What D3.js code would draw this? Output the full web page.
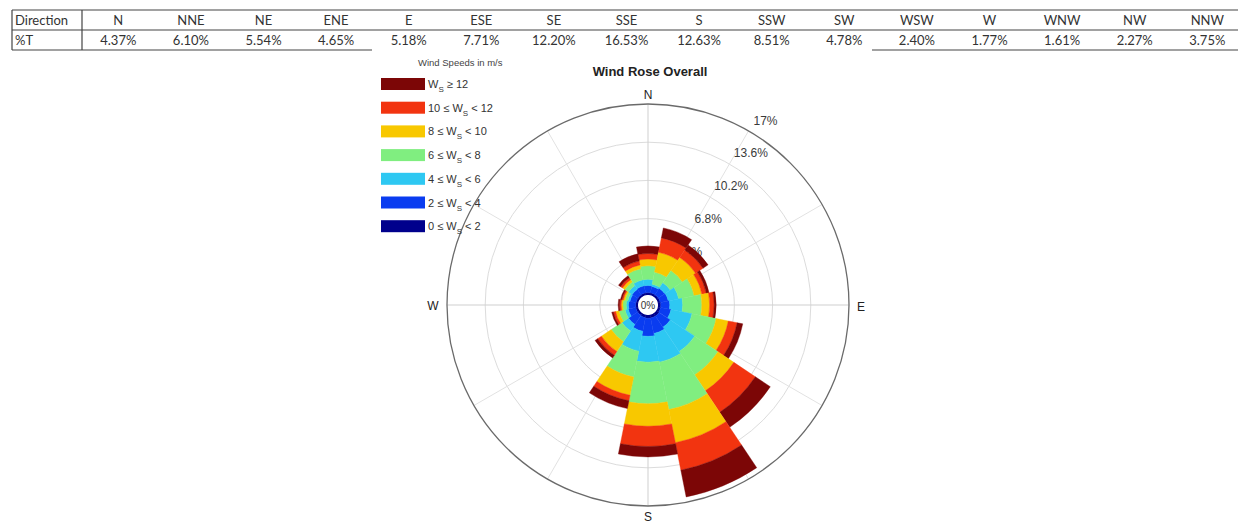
<!DOCTYPE html>
<html>
<head>
<meta charset="utf-8">
<script src="https://cdn.jsdelivr.net/npm/d3@7"></script>
<style>
  body { margin: 0; background: #fff; }
  svg { display: block; }
</style>
</head>
<body>
<svg id="chart" width="1238" height="525"></svg>
<script>
// table row
const directions = ["N", "NNE", "NE", "ENE", "E", "ESE", "SE", "SSE", "S", "SSW", "SW", "WSW", "W", "WNW", "NW", "NNW"];
const tableValues = ["4.37%", "6.10%", "5.54%", "4.65%", "5.18%", "7.71%", "12.20%", "16.53%", "12.63%", "8.51%", "4.78%", "2.40%", "1.77%", "1.61%", "2.27%", "3.75%"];

// frequency (%) of each speed class per direction
const speed0to2   = [0.22, 0.22, 0.22, 0.22, 0.25, 0.25, 0.30, 0.30, 0.30, 0.25, 0.22, 0.22, 0.22, 0.20, 0.20, 0.22];
const speed2to4   = [0.63, 0.58, 0.68, 0.73, 0.80, 0.95, 1.20, 1.40, 1.60, 1.25, 0.98, 0.68, 0.63, 0.55, 0.60, 0.63];
const speed4to6   = [0.55, 0.20, 0.60, 0.95, 1.15, 1.90, 2.60, 2.60, 2.30, 1.80, 0.70, 0.30, 0.20, 0.20, 0.40, 0.55];
const speed6to8   = [1.20, 1.10, 1.30, 1.40, 1.70, 2.20, 2.50, 4.30, 3.70, 2.35, 1.15, 0.55, 0.30, 0.25, 0.40, 1.00];
const speed8to10  = [0.60, 1.80, 1.40, 0.70, 0.70, 1.10, 1.70, 3.00, 2.00, 1.65, 1.05, 0.30, 0.15, 0.15, 0.25, 0.35];
const speed10to12 = [0.50, 1.30, 0.80, 0.40, 0.40, 0.80, 2.30, 2.50, 1.80, 0.50, 0.40, 0.20, 0.15, 0.13, 0.20, 0.35];
const speed12up   = [0.67, 0.90, 0.54, 0.25, 0.18, 0.51, 1.60, 2.43, 0.93, 0.71, 0.28, 0.15, 0.12, 0.13, 0.22, 0.65];

const speedBins = [
  {lo: "0", hi: "2", data: speed0to2, color: "#00008c"},
  {lo: "2", hi: "4", data: speed2to4, color: "#0a3cf0"},
  {lo: "4", hi: "6", data: speed4to6, color: "#2ec8f2"},
  {lo: "6", hi: "8", data: speed6to8, color: "#80ee80"},
  {lo: "8", hi: "10", data: speed8to10, color: "#f8c800"},
  {lo: "10", hi: "12", data: speed10to12, color: "#f23410"},
  {lo: "12", hi: null, data: speed12up, color: "#7c0606"}
];
const ringTicks = [3.4, 6.8, 10.2, 13.6, 17];

const svg = d3.select("#chart");

// ---------- table ----------
let tableLeft = 12, firstCol = 82, colW = 72.6;
let rowTop = 10, rowMid = 30, rowBot = 50;
let xCol = d3.scaleBand().domain(directions).range([firstCol, firstCol + colW * directions.length]);

let tbl = svg.append("g").attr("font-family", "Lato, 'Open Sans', sans-serif").attr("font-size", 13).attr("fill", "#333");
[rowTop, rowMid, rowBot].forEach(y => {
  tbl.append("line").attr("x1", tableLeft).attr("x2", 1238).attr("y1", y).attr("y2", y)
    .attr("stroke", "#444").attr("stroke-width", 1.2);
});
[tableLeft, firstCol].forEach(x => {
  tbl.append("line").attr("x1", x).attr("x2", x).attr("y1", rowTop).attr("y2", rowBot)
    .attr("stroke", "#444").attr("stroke-width", 1.2);
});
tbl.append("text").attr("x", tableLeft + 3).attr("y", 25).text("Direction");
tbl.append("text").attr("x", tableLeft + 3).attr("y", 45).text("%T");
tbl.selectAll("text.hd").data(directions).enter().append("text")
  .attr("x", d => xCol(d) + xCol.bandwidth() / 2).attr("y", 25)
  .attr("text-anchor", "middle").text(d => d);
tbl.selectAll("text.val").data(tableValues).enter().append("text")
  .attr("x", (d, i) => xCol(directions[i]) + xCol.bandwidth() / 2).attr("y", 45)
  .attr("text-anchor", "middle").text(d => d);

// figure background (covers the table's bottom rule)
svg.append("rect").attr("x", 372).attr("y", 49).attr("width", 500).attr("height", 476).attr("fill", "#fff");

// ---------- wind rose ----------
let cx = 648, cy = 305;
let r = d3.scaleLinear().domain([0, 17]).range([10, 201]);
let rose = svg.append("g").attr("transform", "translate(" + cx + "," + cy + ")")
  .attr("font-family", "'Liberation Sans', Arial, sans-serif");

// grid
rose.selectAll("circle.grid").data(ringTicks.slice(0, -1)).enter().append("circle")
  .attr("r", d => r(d)).attr("fill", "none").attr("stroke", "#dcdcdc").attr("stroke-width", 1);
d3.range(0, 360, 30).forEach(a => {
  let t = a * Math.PI / 180;
  rose.append("line").attr("x1", r(0) * Math.sin(t)).attr("y1", -r(0) * Math.cos(t))
    .attr("x2", r(17) * Math.sin(t)).attr("y2", -r(17) * Math.cos(t))
    .attr("stroke", a % 90 === 0 ? "#cfcfcf" : "#e2e2e2").attr("stroke-width", 1);
});

// ring labels (under the sectors, as in the original)
rose.selectAll("text.ring").data(ringTicks).enter().append("text")
  .attr("x", d => r(d) * Math.sin(31 * Math.PI / 180) + 2)
  .attr("y", d => -r(d) * Math.cos(31 * Math.PI / 180) - 8)
  .attr("font-size", 12).attr("fill", "#3a3a3a")
  .text(d => d + "%");

// stacked sectors
let half = 11.25 * Math.PI / 180;
let arc = d3.arc();
let stackRows = directions.map((dir, i) => {
  let acc = 0;
  return speedBins.map(b => {
    let s = {dir: i, inner: acc, outer: acc + b.data[i], color: b.color};
    acc += b.data[i];
    return s;
  });
});
rose.selectAll("g.dir").data(stackRows).enter().append("g")
  .selectAll("path").data(d => d).enter().append("path")
  .attr("d", d => arc({
    innerRadius: r(d.inner), outerRadius: r(d.outer),
    startAngle: d.dir * 22.5 * Math.PI / 180 - half,
    endAngle: d.dir * 22.5 * Math.PI / 180 + half
  }))
  .attr("fill", d => d.color).attr("stroke", d => d.color).attr("stroke-width", 0.4);

rose.append("circle").attr("r", r(0)).attr("fill", "#fff");
rose.append("text").attr("y", 4).attr("text-anchor", "middle").attr("font-size", 10).attr("fill", "#333").text("0%");

// outer circle
rose.append("circle").attr("r", r(17)).attr("fill", "none").attr("stroke", "#6a6a6a").attr("stroke-width", 1.3);

// cardinal labels
let card = [["N", 0, -206], ["S", 0, 216], ["E", 213, 6], ["W", -215, 5]];
rose.selectAll("text.card").data(card).enter().append("text")
  .attr("x", d => d[1]).attr("y", d => d[2]).attr("text-anchor", "middle")
  .attr("font-size", 12).attr("fill", "#222").text(d => d[0]);

// title
svg.append("text").attr("x", 650).attr("y", 76).attr("text-anchor", "middle")
  .attr("font-family", "'Liberation Sans', Arial, sans-serif").attr("font-weight", "bold")
  .attr("font-size", 13).attr("fill", "#222").text("Wind Rose Overall");

// ---------- legend ----------
let leg = svg.append("g").attr("font-family", "'Liberation Sans', Arial, sans-serif").attr("fill", "#333");
leg.append("text").attr("x", 418).attr("y", 66).attr("font-size", 9.5).attr("fill", "#444").text("Wind Speeds in m/s");
let legY = d3.scaleBand().domain(d3.range(speedBins.length)).range([73, 73 + 23.7 * 7]);
let legRows = speedBins.slice().reverse();
let items = leg.selectAll("g.item").data(legRows).enter().append("g")
  .attr("transform", (d, i) => "translate(381," + legY(i) + ")");
items.append("rect").attr("y", 5).attr("width", 44).attr("height", 12).attr("fill", d => d.color);
let lt = items.append("text").attr("x", 47).attr("y", 15).attr("font-size", 11);
lt.each(function(d) {
  let t = d3.select(this);
  if (d.hi === null) {
    t.append("tspan").text("W");
    t.append("tspan").attr("dy", 4).attr("font-size", 8).text("S");
    t.append("tspan").attr("dy", -4).text(" \u2265 " + d.lo);
  } else {
    t.append("tspan").text(d.lo + " \u2264 W");
    t.append("tspan").attr("dy", 4).attr("font-size", 8).text("S");
    t.append("tspan").attr("dy", -4).text(" < " + d.hi);
  }
});
</script>
</body>
</html>
